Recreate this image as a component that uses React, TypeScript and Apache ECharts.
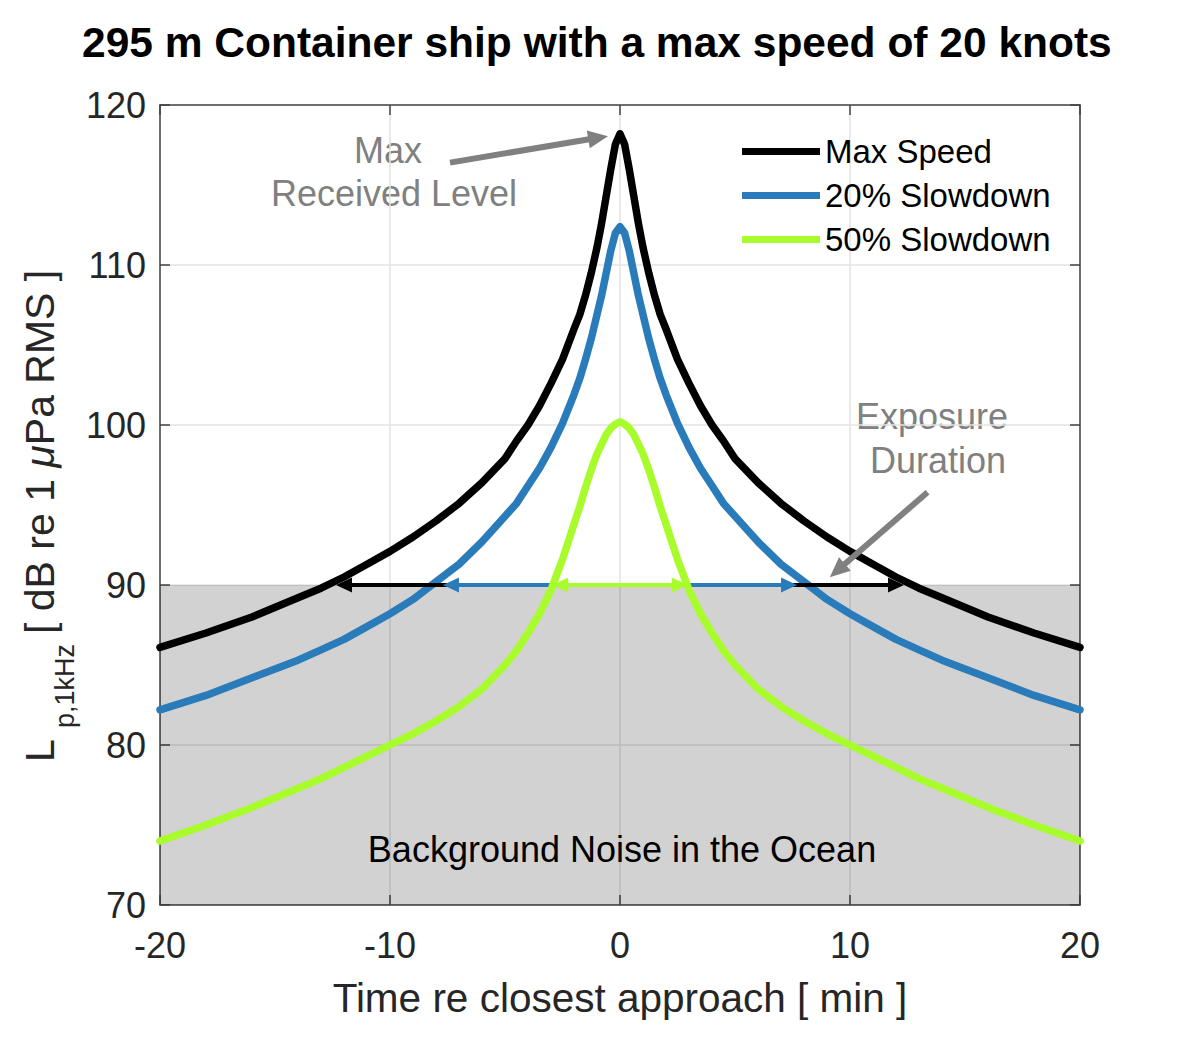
import React, { useEffect, useRef } from "react";
import * as echarts from "echarts";

const timeMin = [-20, -18, -16, -14, -13, -12, -11, -10, -9, -8, -7, -6, -5, -4.5, -4, -3.5, -3, -2.5, -2, -1.75, -1.5, -1.25, -1, -0.8, -0.6, -0.4, -0.2, 0, 0.2, 0.4, 0.6, 0.8, 1, 1.25, 1.5, 1.75, 2, 2.5, 3, 3.5, 4, 4.5, 5, 6, 7, 8, 9, 10, 11, 12, 13, 14, 16, 18, 20];

const maxSpeed = [86.1, 87.0, 88.0, 89.2, 89.8, 90.5, 91.3, 92.1, 93.0, 94.0, 95.1, 96.4, 97.9, 99.0, 100.0, 101.2, 102.6, 104.1, 106.0, 106.9, 108.1, 109.5, 111.1, 112.6, 114.3, 116.0, 117.55, 118.2, 117.55, 116.0, 114.3, 112.6, 111.1, 109.5, 108.1, 106.9, 106.0, 104.1, 102.6, 101.2, 100.0, 99.0, 97.9, 96.4, 95.1, 94.0, 93.0, 92.1, 91.3, 90.5, 89.8, 89.2, 88.0, 87.0, 86.1];

const slow20 = [82.2, 83.1, 84.2, 85.3, 85.95, 86.6, 87.4, 88.2, 89.1, 90.2, 91.3, 92.7, 94.3, 95.1, 96.2, 97.3, 98.6, 100.1, 101.9, 102.9, 104.1, 105.4, 106.9, 108.1, 109.5, 110.9, 112.0, 112.4, 112.0, 110.9, 109.5, 108.1, 106.9, 105.4, 104.1, 102.9, 101.9, 100.1, 98.6, 97.3, 96.2, 95.1, 94.3, 92.7, 91.3, 90.2, 89.1, 88.2, 87.4, 86.6, 85.95, 85.3, 84.2, 83.1, 82.2];

const slow50 = [74.0, 75.0, 76.1, 77.3, 77.9, 78.6, 79.3, 80.0, 80.7, 81.5, 82.4, 83.5, 85.0, 85.9, 87.0, 88.2, 89.7, 91.6, 93.8, 94.9, 96.1, 97.2, 98.2, 98.8, 99.4, 99.8, 100.05, 100.2, 100.05, 99.8, 99.4, 98.8, 98.2, 97.2, 96.1, 94.9, 93.8, 91.6, 89.7, 88.2, 87.0, 85.9, 85.0, 83.5, 82.4, 81.5, 80.7, 80.0, 79.3, 78.6, 77.9, 77.3, 76.1, 75.0, 74.0];

const seriesNames = ["Max Speed", "20% Slowdown", "50% Slowdown"];
const seriesColors = ["#000000", "#2a7bba", "#a8fc2c"];
// exposure duration arrows (start, end time in min) at the noise threshold
const exposureStart = [-12.0, -7.35, -2.6];
const exposureEnd = [12.0, 7.35, 2.6];
const noiseLevel = 90;
const noiseFloor = 70;

const xTicks = { min: -20, max: 20, interval: 10 };
const yTicks = { min: 70, max: 120, interval: 10 };

// annotation arrows in data coords [t, dB]
const maxArrow = [[-7.39, 116.4], [-0.95, 117.95]];
const expArrow = [[13.37, 95.8], [9.45, 90.9]];

const FONT = "'Liberation Sans', Arial, Helvetica, sans-serif";

export default function App() {
  const ref = useRef<HTMLDivElement>(null);
  useEffect(() => {
    if (!ref.current) return;
    const chart = echarts.init(ref.current, undefined, { renderer: "svg" });
    const values = [maxSpeed, slow20, slow50];
    const axisColor = "#454545";
    const lineSeries = values.map((vals, i) => ({
      name: seriesNames[i],
      type: "line",
      data: timeMin.map((t, k) => [t, vals[k]]),
      showSymbol: false,
      smooth: false,
      z: 3 + i,
      lineStyle: { color: seriesColors[i], width: 7.5, join: "round", cap: "round" },
      itemStyle: { color: seriesColors[i] },
      markLine: {
        silent: true,
        symbol: ["triangle", "triangle"],
        symbolSize: [15, 16],
        label: { show: false },
        lineStyle: { color: seriesColors[i], width: 4, type: "solid" },
        data: [[{ coord: [exposureStart[i], noiseLevel] }, { coord: [exposureEnd[i], noiseLevel] }]],
      },
    }));
    const option: any = {
      animation: false,
      textStyle: { fontFamily: FONT },
      title: {
        text: "295 m Container ship with a max speed of 20 knots",
        left: 77,
        top: 16,
        textStyle: { fontSize: 42.5, fontWeight: "bold", color: "#000", fontFamily: FONT },
      },
      grid: { left: 160, right: 120, top: 105, bottom: 145, show: false },
      legend: {
        data: seriesNames,
        orient: "vertical",
        left: 742,
        top: 135,
        padding: 0,
        itemGap: 11,
        itemWidth: 78,
        itemHeight: 7,
        icon: "rect",
        textStyle: { fontSize: 33, color: "#000", fontFamily: FONT, lineHeight: 33 },
      },
      xAxis: [
        {
          type: "value",
          ...xTicks,
          position: "bottom",
          name: "Time re closest approach [ min ]",
          nameLocation: "middle",
          nameGap: 72,
          nameTextStyle: { fontSize: 40.5, color: "#262626", fontFamily: FONT },
          axisLine: { show: true, onZero: false, lineStyle: { color: axisColor, width: 1.5 } },
          axisTick: { show: true, inside: true, length: 10, lineStyle: { color: axisColor, width: 1.5 } },
          axisLabel: { fontSize: 36, color: "#262626", margin: 22, fontFamily: FONT },
          splitLine: { show: true, lineStyle: { color: "#e3e3e3", width: 1.5 } },
        },
        {
          type: "value",
          ...xTicks,
          position: "top",
          axisLine: { show: true, onZero: false, lineStyle: { color: axisColor, width: 1.5 } },
          axisTick: { show: true, inside: true, length: 10, lineStyle: { color: axisColor, width: 1.5 } },
          axisLabel: { show: false },
          splitLine: { show: false },
        },
      ],
      yAxis: [
        {
          type: "value",
          ...yTicks,
          position: "left",
          axisLine: { show: true, onZero: false, lineStyle: { color: axisColor, width: 1.5 } },
          axisTick: { show: true, inside: true, length: 10, lineStyle: { color: axisColor, width: 1.5 } },
          axisLabel: { fontSize: 36, color: "#262626", margin: 14, fontFamily: FONT },
          splitLine: { show: true, lineStyle: { color: "#e3e3e3", width: 1.5 } },
        },
        {
          type: "value",
          ...yTicks,
          position: "right",
          axisLine: { show: true, onZero: false, lineStyle: { color: axisColor, width: 1.5 } },
          axisTick: { show: true, inside: true, length: 10, lineStyle: { color: axisColor, width: 1.5 } },
          axisLabel: { show: false },
          splitLine: { show: false },
        },
      ],
      series: [
        {
          name: "noise",
          type: "line",
          data: [],
          z: 1,
          markArea: {
            silent: true,
            itemStyle: { color: "rgba(0,0,0,0.175)" },
            data: [[{ yAxis: noiseFloor }, { yAxis: noiseLevel }]],
          },
        },
        ...lineSeries,
        {
          name: "annotations",
          type: "line",
          data: [],
          z: 10,
          markLine: {
            silent: true,
            symbol: ["none", "triangle"],
            symbolSize: [18, 20],
            label: { show: false },
            lineStyle: { color: "#808080", width: 6, type: "solid" },
            data: [
              [{ coord: maxArrow[0] }, { coord: maxArrow[1] }],
              [{ coord: expArrow[0] }, { coord: expArrow[1] }],
            ],
          },
        },
      ],
      graphic: [
        { type: "text", x: 388, y: 150, style: { text: "Max", font: `36px ${FONT}`, fill: "#808080", align: "center", verticalAlign: "middle" } },
        { type: "text", x: 394, y: 193, style: { text: "Received Level", font: `36px ${FONT}`, fill: "#808080", align: "center", verticalAlign: "middle" } },
        { type: "text", x: 932, y: 416, style: { text: "Exposure", font: `36px ${FONT}`, fill: "#808080", align: "center", verticalAlign: "middle" } },
        { type: "text", x: 938, y: 460, style: { text: "Duration", font: `36px ${FONT}`, fill: "#808080", align: "center", verticalAlign: "middle" } },
        { type: "text", x: 622, y: 849, z: 20, style: { text: "Background Noise in the Ocean", font: `36px ${FONT}`, fill: "#000", align: "center", verticalAlign: "middle" } },
        {
          type: "group",
          x: 52,
          y: 762,
          rotation: Math.PI / 2,
          children: [
            { type: "text", x: 0, y: 8, style: { text: "L", font: `41px ${FONT}`, fill: "#262626", align: "left", verticalAlign: "bottom" } },
            { type: "text", x: 34, y: 26, style: { text: "p,1kHz", font: `27px ${FONT}`, fill: "#262626", align: "left", verticalAlign: "bottom" } },
            {
              type: "text",
              x: 128,
              y: 8,
              style: {
                text: "{n|[ dB re 1 }{m|\u03bc}{n|Pa RMS ]}",
                fill: "#262626",
                align: "left",
                verticalAlign: "bottom",
                rich: {
                  n: { fontSize: 41, fontFamily: FONT, fill: "#262626" },
                  m: { fontSize: 41, fontFamily: FONT, fontStyle: "italic", fill: "#262626" },
                },
              },
            },
          ],
        },
      ],
    };
    chart.setOption(option);
    return () => chart.dispose();
  }, []);
  return <div ref={ref} style={{ position: "absolute", left: 0, top: 0, width: 1200, height: 1050, background: "#fff" }} />;
}
